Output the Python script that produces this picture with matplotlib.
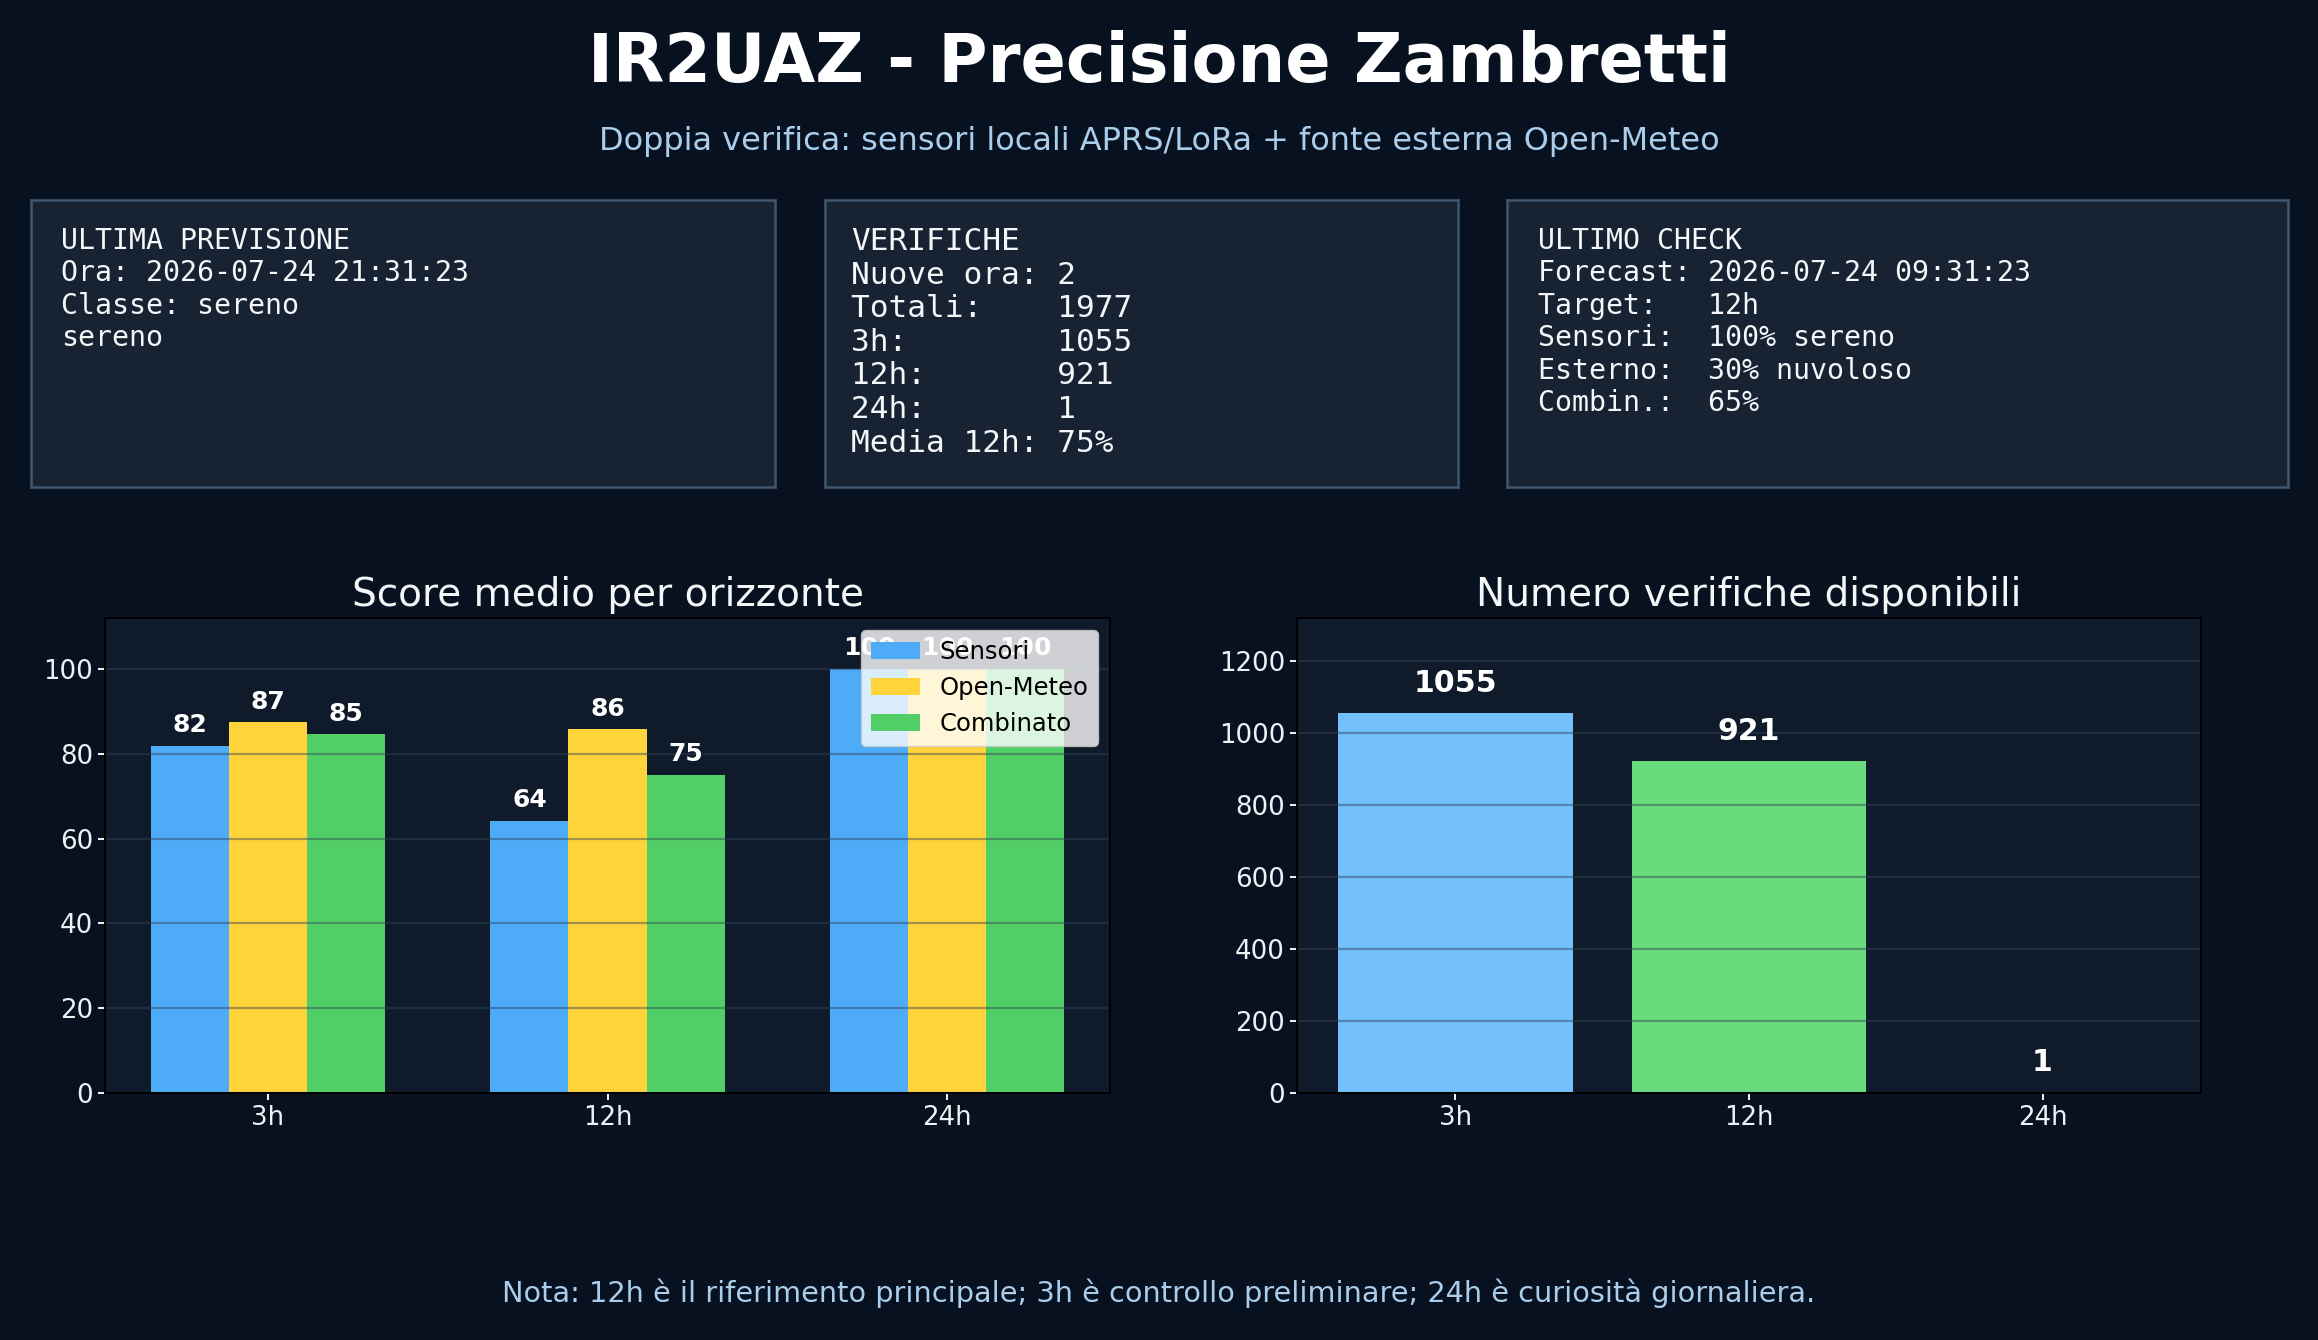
import matplotlib

matplotlib.use("Agg")
import matplotlib.pyplot as plt
import numpy as np


# dati
ORIZZONTI = ["3h", "12h", "24h"]
SCORE_SENSORI = [81.9, 64.2, 100.0]
SCORE_OPEN_METEO = [87.4, 85.8, 100.0]
SCORE_COMBINATO = [84.6, 75.0, 100.0]
NUM_VERIFICHE = [1055, 921, 1]

TITOLO = "IR2UAZ - Precisione Zambretti"
SOTTOTITOLO = "Doppia verifica: sensori locali APRS/LoRa + fonte esterna Open-Meteo"
NOTA = ("Nota: 12h è il riferimento principale; 3h è controllo preliminare; "
        "24h è curiosità giornaliera.")

BOX_PREVISIONE = ("ULTIMA PREVISIONE\n"
                  "Ora: 2026-07-24 21:31:23\n"
                  "Classe: sereno\n"
                  "sereno")
BOX_VERIFICHE = ("VERIFICHE\n"
                 "Nuove ora: 2\n"
                 "Totali:    1977\n"
                 "3h:        1055\n"
                 "12h:       921\n"
                 "24h:       1\n"
                 "Media 12h: 75%")
BOX_CHECK = ("ULTIMO CHECK\n"
             "Forecast: 2026-07-24 09:31:23\n"
             "Target:   12h\n"
             "Sensori:  100% sereno\n"
             "Esterno:  30% nuvoloso\n"
             "Combin.:  65%")

BG = "#07111f"
AX_BG = "#0f1b2a"
BOX_BG = "#172333"
BOX_EDGE = "#3e566e"
TXT = "#f4f6f8"
SUB = "#aacdec"
GRID = "#334155"

W, H = 2318, 1340
DPI = 100


def px(v):
    """pixel -> punti a DPI 100"""
    return v * 72 / DPI


def add_box(fig, rect, text, size_px, pad_x):
    ax = fig.add_axes(rect)
    ax.set_facecolor(BOX_BG)
    ax.set_xticks([])
    ax.set_yticks([])
    for sp in ax.spines.values():
        sp.set_color(BOX_EDGE)
        sp.set_linewidth(px(2.5))
    x0 = pad_x / (rect[2] * W)
    y0 = 1 - 27 / (rect[3] * H)
    ax.text(x0, y0, text, transform=ax.transAxes, ha="left", va="top",
            family="DejaVu Sans Mono", fontsize=px(size_px), color=TXT)


def style_axes(ax):
    ax.set_facecolor(AX_BG)
    for sp in ax.spines.values():
        sp.set_color("black")
        sp.set_linewidth(px(2))
    ax.tick_params(colors="#eef1f4", labelsize=px(26), length=px(7),
                   width=px(2), pad=px(5))
    ax.grid(axis="y", color=GRID, alpha=0.45, linewidth=px(2.2))


def main():
    fig = plt.figure(figsize=(W / DPI, H / DPI), dpi=DPI, facecolor=BG)

    fig.text(0.5, 1 - 82 / H, TITOLO, ha="center", va="baseline",
             fontsize=px(67), fontweight="bold", color="white")
    fig.text(0.5, 1 - 150 / H, SOTTOTITOLO, ha="center", va="baseline",
             fontsize=px(32), color=SUB)
    fig.text(0.5, 1 - 1302 / H, NOTA, ha="center", va="baseline",
             fontsize=px(28.8), color=SUB)

    box_y = 1 - 487 / H
    box_h = 287 / H
    add_box(fig, [31 / W, box_y, 744 / W, box_h], BOX_PREVISIONE, 28.3, 30)
    add_box(fig, [825 / W, box_y, 633 / W, box_h], BOX_VERIFICHE, 31.2, 26)
    add_box(fig, [1507 / W, box_y, 781 / W, box_h], BOX_CHECK, 28.3, 31)

    ax_y = 1 - 1093 / H
    ax_h = 475 / H

    # score medio
    ax1 = fig.add_axes([105 / W, ax_y, 1005 / W, ax_h])
    style_axes(ax1)
    x = np.arange(len(ORIZZONTI))
    width = 0.23
    serie = [
        ("Sensori", SCORE_SENSORI, "#4dabf7"),
        ("Open-Meteo", SCORE_OPEN_METEO, "#ffd43b"),
        ("Combinato", SCORE_COMBINATO, "#51cf66"),
    ]
    for i, (nome, valori, colore) in enumerate(serie):
        pos = x + (i - 1) * width
        ax1.bar(pos, valori, width, color=colore, label=nome)
        for xp, v in zip(pos, valori):
            ax1.text(xp, v + 2, f"{v:.0f}", ha="center", va="bottom",
                     fontsize=px(25), fontweight="bold", color="white",
                     zorder=3)
    ax1.set_ylim(0, 112)
    ax1.set_xticks(x)
    ax1.set_xticklabels(ORIZZONTI)
    ax1.set_title("Score medio per orizzonte", fontsize=px(39), color=TXT,
                  pad=px(12))
    leg = ax1.legend(loc="upper right", fontsize=px(24.3), facecolor="white",
                     edgecolor="0.8", framealpha=0.8)
    leg.set_zorder(5)

    # numero verifiche
    ax2 = fig.add_axes([1297 / W, ax_y, 904 / W, ax_h])
    style_axes(ax2)
    colori = ["#74c0fc", "#69db7c", "#ffa94d"]
    ax2.bar(x, NUM_VERIFICHE, 0.8, color=colori)
    top = max(NUM_VERIFICHE)
    for xp, v in zip(x, NUM_VERIFICHE):
        ax2.text(xp, v + top * 0.04, str(v), ha="center", va="bottom",
                 fontsize=px(30), fontweight="bold", color="white")
    ax2.set_ylim(0, top * 1.25)
    ax2.set_xticks(x)
    ax2.set_xticklabels(ORIZZONTI)
    ax2.set_title("Numero verifiche disponibili", fontsize=px(39), color=TXT,
                  pad=px(12))

    fig.savefig("out.png", dpi=DPI, facecolor=BG)
    plt.close(fig)


if __name__ == "__main__":
    main()
